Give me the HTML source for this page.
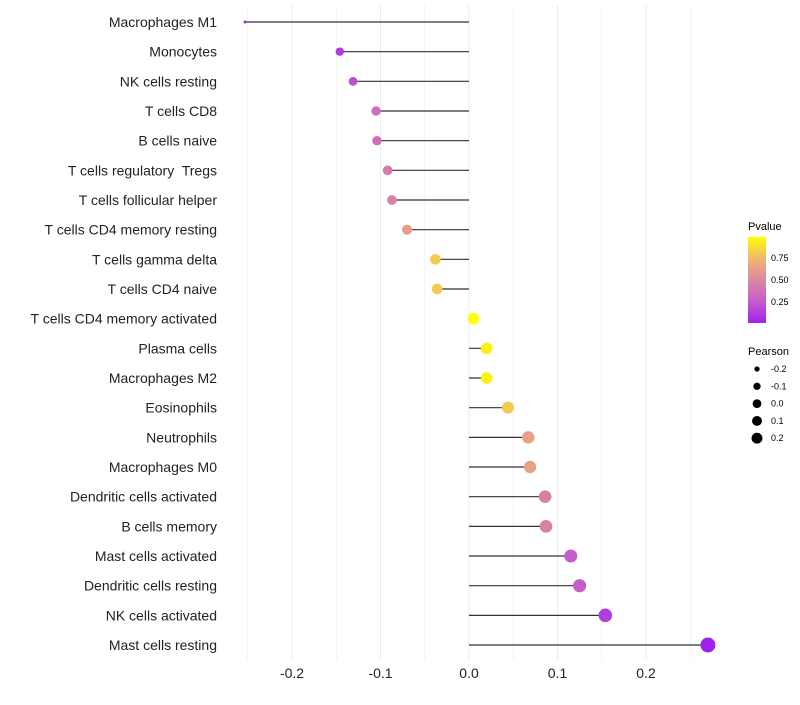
<!DOCTYPE html>
<html><head><meta charset="utf-8"><style>
body{margin:0;background:#fff;font-family:"Liberation Sans",sans-serif}
text{white-space:pre}
</style></head><body>
<svg id="chart" width="800" height="700" xmlns="http://www.w3.org/2000/svg" font-family="Liberation Sans, sans-serif">
<defs><linearGradient id="pg" x1="0" y1="1" x2="0" y2="0">
<stop offset="0" stop-color="#a020f0"/><stop offset="0.25" stop-color="#c55ccc"/><stop offset="0.5" stop-color="#dc88a0"/><stop offset="0.75" stop-color="#efb870"/><stop offset="1" stop-color="#ffff00"/>
</linearGradient></defs>
<g id="grid"></g><g id="marks"></g><g id="labels"></g>
<g id="legend">
<text x="748" y="230" font-size="11">Pvalue</text>
<rect x="748" y="237" width="18" height="86" fill="url(#pg)"/>
<text x="771" y="261" font-size="9">0.75</text>
<text x="771" y="283" font-size="9">0.50</text>
<text x="771" y="305" font-size="9">0.25</text>
<text x="748" y="355" font-size="11">Pearson</text>
</g>
</svg>
<script>
const categories=["Macrophages M1","Monocytes","NK cells resting","T cells CD8","B cells naive","T cells regulatory  Tregs","T cells follicular helper","T cells CD4 memory resting","T cells gamma delta","T cells CD4 naive","T cells CD4 memory activated","Plasma cells","Macrophages M2","Eosinophils","Neutrophils","Macrophages M0","Dendritic cells activated","B cells memory","Mast cells activated","Dendritic cells resting","NK cells activated","Mast cells resting"];
const pearson=[-0.253,-0.146,-0.131,-0.105,-0.104,-0.092,-0.087,-0.070,-0.038,-0.036,0.005,0.020,0.020,0.044,0.067,0.069,0.086,0.087,0.115,0.125,0.154,0.270];
const pvalues=[0.0,0.12,0.2,0.35,0.35,0.42,0.45,0.6,0.8,0.8,1.0,0.93,0.93,0.8,0.62,0.62,0.45,0.45,0.25,0.25,0.12,0.0];
const xTicks=[-0.2,-0.1,0.0,0.1,0.2];
const xTickLabels=["-0.2","-0.1","0.0","0.1","0.2"];
const sizeLegend=[-0.2,-0.1,0.0,0.1,0.2];
const sizeLegendLabels=["-0.2","-0.1","0.0","0.1","0.2"];
const NS="http://www.w3.org/2000/svg";
const x=v=>469+v*885;
const y=i=>22+i*29.667;
const r=v=>1.5+6*Math.sqrt(Math.max(0,(v+0.253)/0.523));
const stops=[[0,[160,32,240]],[0.25,[197,92,204]],[0.5,[220,136,160]],[0.75,[239,184,112]],[1,[255,255,0]]];
function col(p){p=Math.max(0,Math.min(1,p/0.98));for(let k=1;k<stops.length;k++){if(p<=stops[k][0]){const a=stops[k-1],b=stops[k],t=(p-a[0])/(b[0]-a[0]);return "rgb("+a[1].map((c,j)=>Math.round(c+(b[1][j]-c)*t)).join(",")+")";}}return "rgb(255,255,0)";}
function mk(tag,at,parent){const e=document.createElementNS(NS,tag);for(const k in at)e.setAttribute(k,at[k]);document.getElementById(parent).appendChild(e);return e;}
for(let g=-0.25;g<=0.301;g+=0.05){const gx=x(g);if(gx<228||gx>715)continue;
const l=mk("line",{x1:gx,x2:gx,y1:5,y2:660,stroke:"#ebebeb","stroke-width":Math.abs(Math.round(g*20))%2===0?1:0.6},"grid");

}
xTicks.forEach((t,i)=>{const e=mk("text",{x:x(t),y:678,"font-size":14,"text-anchor":"middle",fill:"#222"},"labels");e.textContent=xTickLabels[i];

});
categories.forEach((c,i)=>{
const t=mk("text",{x:217,y:y(i)+5,"font-size":14,"text-anchor":"end",fill:"#222"},"labels");t.textContent=c;


const s=mk("line",{x1:x(0),x2:x(pearson[i]),y1:y(i),y2:y(i),stroke:"#333","stroke-width":1.2},"marks");


const p=mk("circle",{cx:x(pearson[i]),cy:y(i),r:r(pearson[i]),fill:col(pvalues[i])},"marks");


});
sizeLegend.forEach((v,i)=>{const cy=369+i*17.3;
const c=mk("circle",{cx:757,cy:cy,r:r(v)*0.77,fill:"#000"},"legend");


const t=mk("text",{x:771,y:cy+3,"font-size":9},"legend");t.textContent=sizeLegendLabels[i];

});
</script>
</body></html>
